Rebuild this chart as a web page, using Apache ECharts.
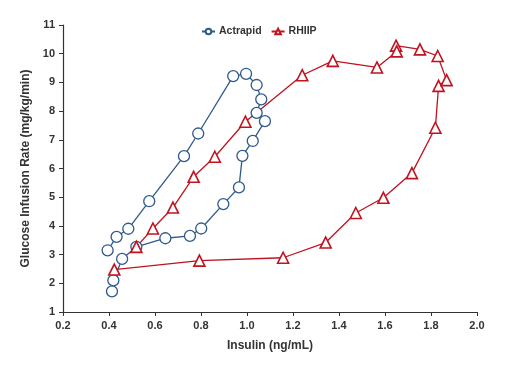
<!DOCTYPE html>
<html>
<head>
<meta charset="utf-8">
<script src="https://cdn.jsdelivr.net/npm/echarts@6/dist/echarts.min.js"></script>
<style>
  html, body { margin: 0; padding: 0; background: #fff; }
  #main { width: 506px; height: 377px; }
</style>
</head>
<body>
<div id="main"></div>
<script>
// Insulin (ng/mL) vs glucose infusion rate, in time order (hysteresis loops)
var actrapidX = [0.413, 0.419, 0.457, 0.519, 0.645, 0.752, 0.801, 0.897, 0.965, 0.980, 1.025, 1.078,
    1.042, 1.062, 1.042, 0.996, 0.940, 0.788, 0.726, 0.575, 0.484, 0.433, 0.394];
var actrapidY = [1.72, 2.10, 2.85, 3.27, 3.57, 3.65, 3.91, 4.76, 5.34, 6.44, 6.96, 7.65,
    7.94, 8.41, 8.91, 9.30, 9.22, 7.22, 6.43, 4.86, 3.90, 3.62, 3.15];

var rhiipX = [0.423, 0.793, 1.157, 1.342, 1.473, 1.593, 1.717, 1.819, 1.833, 1.868, 1.829, 1.752,
    1.648, 1.651, 1.565, 1.373, 1.240, 0.993, 0.860, 0.768, 0.678, 0.591, 0.519];
var rhiipY = [2.48, 2.79, 2.89, 3.42, 4.45, 4.98, 5.84, 7.42, 8.88, 9.08, 9.92, 10.15,
    10.28, 10.08, 9.52, 9.75, 9.25, 7.63, 6.41, 5.71, 4.64, 3.91, 3.27];

var seriesNames = ['Actrapid', 'RHIIP'];
var xTitle = 'Insulin (ng/mL)';
var yTitle = 'Glucose Infusion Rate (mg/kg/min)';

function pairs(xs, ys) {
    var out = [];
    for (var i = 0; i < xs.length; i++) out.push([xs[i], ys[i]]);
    return out;
}

var blue = '#2f5a8b';
var red = '#c0121f';
var font = 'Liberation Sans, Arial, sans-serif';

var myChart = echarts.init(document.getElementById('main'));

var option = {
    animation: false,
    backgroundColor: '#fff',
    legend: {
        data: seriesNames,
        left: 196,
        top: 21,
        itemWidth: 13,
        itemHeight: 7,
        itemGap: 9,
        textStyle: { fontFamily: font, fontWeight: 'bold', fontSize: 10.5, color: '#333', padding: [0, 0, 0, -1] }
    },
    grid: { left: 63, right: 29, top: 25, bottom: 65 },
    xAxis: {
        type: 'value',
        min: 0.2,
        max: 2.0,
        interval: 0.2,
        name: xTitle,
        nameLocation: 'middle',
        nameGap: 28,
        nameTextStyle: { fontFamily: font, fontWeight: 'bold', fontSize: 12, color: '#333' },
        axisLine: { lineStyle: { color: '#333', width: 1.2 } },
        axisTick: { show: true, length: 4, lineStyle: { color: '#333' } },
        axisLabel: {
            fontFamily: font, fontWeight: 'bold', fontSize: 11, color: '#333', margin: 8,
            formatter: function(v) { return v.toFixed(1); }
        },
        splitLine: { show: false }
    },
    yAxis: {
        type: 'value',
        min: 1,
        max: 11,
        interval: 1,
        name: yTitle,
        nameLocation: 'middle',
        nameGap: 30,
        nameTextStyle: { fontFamily: font, fontWeight: 'bold', fontSize: 12, color: '#333' },
        axisLine: { show: true, lineStyle: { color: '#333', width: 1.2 } },
        axisTick: { show: true, length: 4, lineStyle: { color: '#333' } },
        axisLabel: { fontFamily: font, fontWeight: 'bold', fontSize: 11, color: '#333', margin: 8 },
        splitLine: { show: false }
    },
    series: [{
        name: seriesNames[0],
        type: 'line',
        data: pairs(actrapidX, actrapidY),
        symbol: 'circle',
        symbolSize: 11,
        lineStyle: { color: blue, width: 1.3 },
        itemStyle: { color: '#fff', borderColor: blue, borderWidth: 1.3 },
        color: blue
    }, {
        name: seriesNames[1],
        type: 'line',
        data: pairs(rhiipX, rhiipY),
        symbol: 'triangle',
        symbolSize: 11,
        lineStyle: { color: red, width: 1.3 },
        itemStyle: { color: '#fff', borderColor: red, borderWidth: 1.6 },
        color: red
    }]
};

myChart.setOption(option);
</script>
</body>
</html>
